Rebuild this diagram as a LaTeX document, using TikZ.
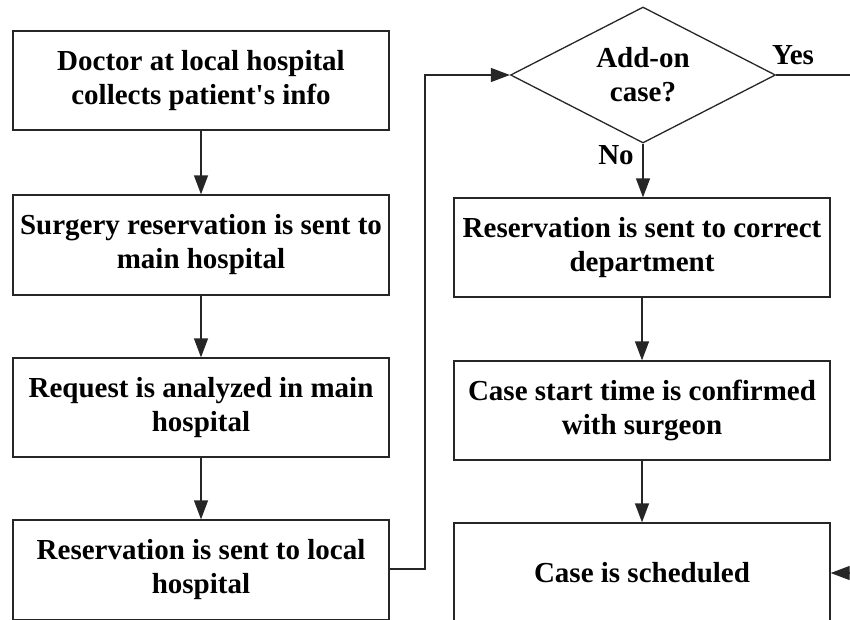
\documentclass[tikz,border=0pt]{standalone}
\usepackage{fontspec}
\setmainfont{Liberation Serif}[Ligatures=TeXOff]
\usetikzlibrary{shapes.geometric,arrows.meta}
\tikzset{
  every picture/.style={x=1pt,y=-1pt},
  flowbox/.style={draw=black!85, line width=1.3pt, rectangle, minimum width=376pt,
    minimum height=100pt, inner sep=0pt, align=center,
    font=\fontsize{29}{34}\selectfont\bfseries},
  decision/.style={draw=black!85, line width=1.3pt, diamond, aspect=1.95,
    minimum width=265pt, minimum height=136pt, inner sep=0pt, align=center,
    font=\fontsize{29}{34}\selectfont\bfseries},
  lbl/.style={font=\fontsize{29}{34}\selectfont\bfseries, inner sep=0pt},
  conn/.style={draw=black!85, line width=1.3pt, -{Triangle[length=19pt,width=14pt]}},
  plain/.style={draw=black!85, line width=1.3pt},
}
\begin{document}
\begin{tikzpicture}
  \path[use as bounding box, clip] (0,0) rectangle (850,619);

  % left column
  \node[flowbox, minimum height=99pt] (collect) at (201,80.5) {Doctor at local hospital\\collects patient's info};
  \node[flowbox] (sendmain) at (201,245) {Surgery reservation is sent to\\main hospital};
  \node[flowbox, minimum height=99pt] (analyze) at (201,407.5) {Request is analyzed in main\\hospital};
  \node[flowbox] (sendlocal) at (201,570) {Reservation is sent to local\\hospital};

  % right column
  \node[decision] (addon) at (643,75) {Add-on\\case?};
  \node[flowbox, minimum height=99pt] (dept) at (642,247.5) {Reservation is sent to correct\\department};
  \node[flowbox, minimum height=99pt] (confirm) at (642,410.5) {Case start time is confirmed\\with surgeon};
  \node[flowbox] (sched) at (642,573) {Case is scheduled};

  % loose ends running off the right edge
  \coordinate (yesend) at (860,75);
  \coordinate (backin) at (860,573);
  \coordinate (bend) at (425,0);

  % connectors
  \draw[conn] (collect) -- (sendmain);
  \draw[conn] (sendmain) -- (analyze);
  \draw[conn] (analyze) -- (sendlocal);
  \draw[conn] (sendlocal.east |- 0,569) -| (bend |- 0,569) |- (addon.west);
  \draw[conn] (addon.south) -- (dept.north -| addon.south);
  \draw[conn] (dept) -- (confirm);
  \draw[conn] (confirm) -- (sched);
  \draw[plain] (addon.east) -- (yesend);
  \draw[conn] (backin) -- (sched.east);

  % branch labels
  \node[lbl] (yes) at (793,55) {Yes};
  \node[lbl] (no) at (616,155) {No};
\end{tikzpicture}
\end{document}
